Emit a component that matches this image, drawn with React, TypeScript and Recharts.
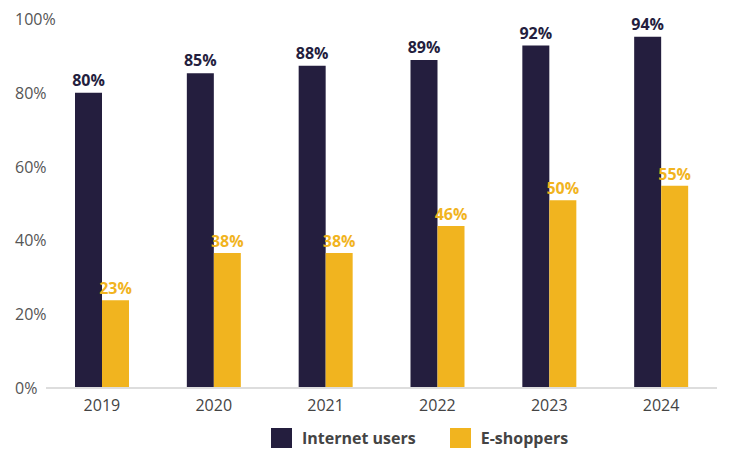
import { BarChart, Bar, XAxis, YAxis, Legend, LabelList } from 'recharts';

const years = ['2019', '2020', '2021', '2022', '2023', '2024'];
const internetUsers = [80, 85.3, 87.3, 88.9, 92.8, 95.2];
const eShoppers = [23.8, 36.6, 36.6, 43.9, 50.9, 54.8];
const internetLabels = ['80%', '85%', '88%', '89%', '92%', '94%'];
const eShopperLabels = ['23%', '38%', '38%', '46%', '50%', '55%'];
const yTicks = [0, 20, 40, 60, 80, 100];

const NAVY = '#241E3E';
const YELLOW = '#F1B41F';
const FONT = '"Open Sans", sans-serif';

const data = years.map((year, i) => ({
  year,
  internet: internetUsers[i],
  shoppers: eShoppers[i],
  internetLabel: internetLabels[i],
  shopperLabel: eShopperLabels[i],
}));

const legendItems = [
  { name: 'Internet users', color: NAVY },
  { name: 'E-shoppers', color: YELLOW },
];

function LegendContent() {
  return (
    <div style={{ display: 'flex', paddingLeft: 271, paddingTop: 9, gap: 34, fontFamily: FONT, lineHeight: '22px' }}>
      {legendItems.map((it) => (
        <div key={it.name} style={{ display: 'flex', alignItems: 'center', gap: 10 }}>
          <div style={{ width: 21, height: 20, background: it.color }} />
          <span style={{ fontSize: 16, fontWeight: 700, color: '#444' }}>{it.name}</span>
        </div>
      ))}
    </div>
  );
}

function YTick(props: any) {
  return (
    <text x={15} y={props.y} dy={6} textAnchor="start" fontSize={16} fill="#555" fontFamily={FONT}>
      {props.payload.value}%
    </text>
  );
}

export default function App() {
  return (
    <div style={{ position: 'absolute', left: 0, top: 0, background: '#fff' }}>
      <BarChart
        width={733}
        height={450}
        data={data}
        barSize={27}
        barGap={0}
        margin={{ top: 19, right: 16, bottom: 0, left: 0 }}
      >
        <XAxis
          dataKey="year"
          tickLine={false}
          axisLine={{ stroke: '#ddd', strokeWidth: 2 }}
          tick={{ fontSize: 16, fill: '#444', fontFamily: FONT }}
          tickMargin={6}
          height={30}
        />
        <YAxis
          domain={[0, 100]}
          ticks={yTicks}
          width={46}
          axisLine={false}
          tickLine={false}
          tick={<YTick />}
        />
        <Legend
          verticalAlign="bottom"
          height={32}
          wrapperStyle={{ left: 0, width: 733, bottom: 0, height: 32 }}
          content={<LegendContent />}
        />
        <Bar dataKey="internet" name="Internet users" fill={NAVY} isAnimationActive={false}>
          <LabelList dataKey="internetLabel" position="top" offset={7} fill={NAVY} fontSize={16} fontWeight={700} fontFamily={FONT} />
        </Bar>
        <Bar dataKey="shoppers" name="E-shoppers" fill={YELLOW} isAnimationActive={false}>
          <LabelList dataKey="shopperLabel" position="top" offset={6} fill={YELLOW} fontSize={16} fontWeight={700} fontFamily={FONT} />
        </Bar>
      </BarChart>
    </div>
  );
}
